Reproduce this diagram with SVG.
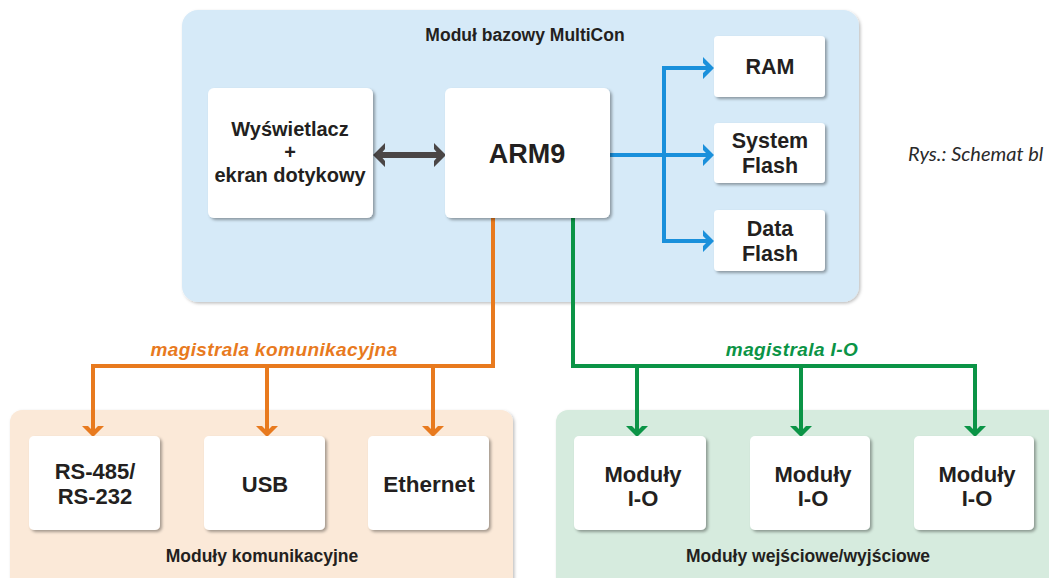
<svg xmlns="http://www.w3.org/2000/svg" width="1049" height="578" viewBox="0 0 1049 578">
  <defs>
    <filter id="shBox" x="-10%" y="-10%" width="125%" height="130%">
      <feDropShadow dx="2" dy="2" stdDeviation="1.5" flood-color="#000" flood-opacity="0.35"/>
    </filter>
    <filter id="shPanel" x="-5%" y="-5%" width="110%" height="115%">
      <feDropShadow dx="1.5" dy="1.5" stdDeviation="1.5" flood-color="#000" flood-opacity="0.25"/>
    </filter>
    <marker id="arBlue" viewBox="-13 -12 16 24" markerWidth="16" markerHeight="24" refX="-3" refY="0" orient="auto" markerUnits="userSpaceOnUse">
      <path d="M0,0 L-11,-11 L-11,-5 L-6,0 L-11,5 L-11,11 Z" fill="#1a90db"/>
    </marker>
    <marker id="arOrange" viewBox="-13 -12 16 24" markerWidth="16" markerHeight="24" refX="-3" refY="0" orient="auto" markerUnits="userSpaceOnUse">
      <path d="M0,0 L-11,-11 L-11,-5 L-6,0 L-11,5 L-11,11 Z" fill="#e87a1e"/>
    </marker>
    <marker id="arGreen" viewBox="-13 -12 16 24" markerWidth="16" markerHeight="24" refX="-3" refY="0" orient="auto" markerUnits="userSpaceOnUse">
      <path d="M0,0 L-11,-11 L-11,-5 L-6,0 L-11,5 L-11,11 Z" fill="#0b9446"/>
    </marker>
    <marker id="arGray" viewBox="-15 -13 18 26" markerWidth="18" markerHeight="26" refX="-3" refY="0" orient="auto-start-reverse" markerUnits="userSpaceOnUse">
      <path d="M0,0 L-12,-12 L-12,-6 L-7,0 L-12,6 L-12,12 Z" fill="#4a4646"/>
    </marker>
    <style>
      .panel { filter: url(#shPanel); }
      .box { fill: #ffffff; filter: url(#shBox); }
      .t { font-family: "Liberation Sans", Arial, sans-serif; font-weight: bold; fill: #231f20; text-anchor: middle; }
      .lbl { font-family: "Liberation Sans", Arial, sans-serif; font-weight: bold; font-style: italic; text-anchor: middle; font-size: 19px; letter-spacing: 0.4px; }
      .ln { fill: none; stroke-linejoin: miter; }
    </style>
  </defs>

  <rect width="1049" height="578" fill="#ffffff"/>

  <!-- Panels -->
  <g id="panel-base">
    <rect class="panel" x="182" y="10" width="677" height="292" rx="16" fill="#d6eaf8"/>
    <text class="t" x="525" y="41" font-size="17.5">Moduł bazowy MultiCon</text>
  </g>
  <g id="panel-comm">
    <rect class="panel" x="10" y="410" width="503" height="180" rx="12" fill="#fbe9d8"/>
    <text class="t" x="262" y="562" font-size="17.5">Moduły komunikacyjne</text>
  </g>
  <g id="panel-io">
    <rect class="panel" x="556" y="410" width="520" height="180" rx="12" fill="#d6ebde"/>
    <text class="t" x="808" y="562" font-size="17.5">Moduły wejściowe/wyjściowe</text>
  </g>

  <!-- Connectors -->
  <g id="connectors">
    <path class="ln" d="M376,155 H443" stroke="#4a4646" stroke-width="6" marker-start="url(#arGray)" marker-end="url(#arGray)"/>
    <path class="ln" d="M610,155 H711" stroke="#1a90db" stroke-width="4" marker-end="url(#arBlue)"/>
    <path class="ln" d="M664,241 V68 H711" stroke="#1a90db" stroke-width="4" marker-end="url(#arBlue)"/>
    <path class="ln" d="M664,155 V241 H711" stroke="#1a90db" stroke-width="4" marker-end="url(#arBlue)"/>

    <path class="ln" d="M493,218 V366 H93 V434" stroke="#e87a1e" stroke-width="4" marker-end="url(#arOrange)"/>
    <path class="ln" d="M267,366 V434" stroke="#e87a1e" stroke-width="4" marker-end="url(#arOrange)"/>
    <path class="ln" d="M433,366 V434" stroke="#e87a1e" stroke-width="4" marker-end="url(#arOrange)"/>
    <text class="lbl" x="274" y="356" fill="#e87a1e">magistrala komunikacyjna</text>

    <path class="ln" d="M573,218 V366 H975 V434" stroke="#0b9446" stroke-width="4" marker-end="url(#arGreen)"/>
    <path class="ln" d="M637,366 V434" stroke="#0b9446" stroke-width="4" marker-end="url(#arGreen)"/>
    <path class="ln" d="M801,366 V434" stroke="#0b9446" stroke-width="4" marker-end="url(#arGreen)"/>
    <text class="lbl" x="792" y="356" fill="#0b9446">magistrala I-O</text>
  </g>

  <!-- Nodes -->
  <g id="node-display">
    <rect class="box" x="208" y="88" width="165" height="130" rx="6"/>
    <text class="t" font-size="20"><tspan x="290" y="136">Wyświetlacz</tspan><tspan x="290" y="159">+</tspan><tspan x="290" y="182">ekran dotykowy</tspan></text>
  </g>
  <g id="node-arm9">
    <rect class="box" x="445" y="88" width="165" height="130" rx="6"/>
    <text class="t" x="527" y="163" font-size="27">ARM9</text>
  </g>
  <g id="node-ram">
    <rect class="box" x="714" y="36" width="111" height="61" rx="4"/>
    <text class="t" x="770" y="74" font-size="21.5">RAM</text>
  </g>
  <g id="node-sysflash">
    <rect class="box" x="714" y="123" width="111" height="60" rx="4"/>
    <text class="t" font-size="21.5"><tspan x="770" y="148">System</tspan><tspan x="770" y="173">Flash</tspan></text>
  </g>
  <g id="node-dataflash">
    <rect class="box" x="714" y="210" width="111" height="61" rx="4"/>
    <text class="t" font-size="21.5"><tspan x="770" y="236">Data</tspan><tspan x="770" y="261">Flash</tspan></text>
  </g>

  <g id="node-rs485">
    <rect class="box" x="29" y="436" width="131" height="94" rx="5"/>
    <text class="t" font-size="22"><tspan x="95" y="479">RS-485/</tspan><tspan x="95" y="504">RS-232</tspan></text>
  </g>
  <g id="node-usb">
    <rect class="box" x="204" y="436" width="121" height="94" rx="5"/>
    <text class="t" x="265" y="492" font-size="22">USB</text>
  </g>
  <g id="node-ethernet">
    <rect class="box" x="368" y="436" width="121" height="94" rx="5"/>
    <text class="t" x="429" y="492" font-size="22.5">Ethernet</text>
  </g>

  <g id="node-io1">
    <rect class="box" x="574" y="436" width="132" height="94" rx="5"/>
    <text class="t" font-size="22"><tspan x="643" y="482">Moduły</tspan><tspan x="643" y="506">I-O</tspan></text>
  </g>
  <g id="node-io2">
    <rect class="box" x="750" y="436" width="120" height="94" rx="5"/>
    <text class="t" font-size="22"><tspan x="813" y="482">Moduły</tspan><tspan x="813" y="506">I-O</tspan></text>
  </g>
  <g id="node-io3">
    <rect class="box" x="914" y="436" width="120" height="94" rx="5"/>
    <text class="t" font-size="22"><tspan x="977" y="482">Moduły</tspan><tspan x="977" y="506">I-O</tspan></text>
  </g>

  <text x="908" y="161" font-family="Lato, 'Open Sans', sans-serif" font-style="italic" font-size="20" fill="#2a2a2a">Rys.: Schemat bl</text>
</svg>
